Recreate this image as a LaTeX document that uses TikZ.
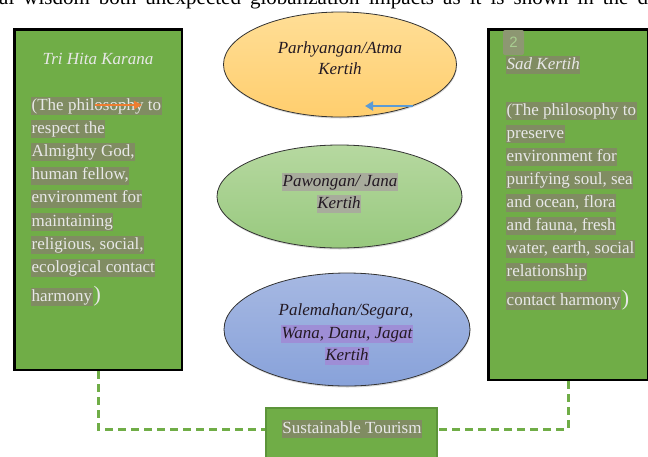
\documentclass[tikz,border=0pt]{standalone}
\usepackage{fontspec}
\setmainfont{Liberation Serif}
\newfontfamily\numfont{Liberation Sans}
\usetikzlibrary{calc, shapes.geometric, arrows.meta, shadows}
\definecolor{boxgreen}{RGB}{112,173,71}
\definecolor{tourborder}{RGB}{92,148,58}
\definecolor{hlgray}{RGB}{128,140,98}
\definecolor{txtlight}{RGB}{232,232,232}
\definecolor{ovaltext}{RGB}{35,25,35}
\definecolor{sunTop}{RGB}{255,222,150}
\definecolor{sunBot}{RGB}{255,206,110}
\definecolor{leafTop}{RGB}{182,216,160}
\definecolor{leafBot}{RGB}{152,201,126}
\definecolor{seaTop}{RGB}{166,184,226}
\definecolor{seaBot}{RGB}{136,162,218}
\definecolor{leafhl}{RGB}{168,172,156}
\definecolor{seahl}{RGB}{158,142,214}
\definecolor{arrowred}{RGB}{237,125,49}
\definecolor{arrowblue}{RGB}{91,155,213}
\newcommand{\bodyfont}{\fontsize{17}{20}\selectfont}
\newcommand{\ovalline}[5]{
    % #1: name
    % #2: x
    % #3: y (baseline)
    % #4: highlight colour
    % #5: text
    \node[ovaltxt, fill=#4] (#1) at (#2,#3) {#5};
}

\begin{document}
\begin{tikzpicture}[x=1pt, y=-1pt]
    % highlighted text line
    \tikzstyle{hl}=[fill=hlgray, text=txtlight, font=\bodyfont, anchor=base west, inner xsep=0.5pt, inner ysep=1pt, text height=12pt, text depth=4pt]
    % big closing bracket
    \tikzstyle{paren}=[text=txtlight, font=\fontsize{22}{24}\selectfont, anchor=base west, inner sep=0.5pt]
    % green panels
    \tikzstyle{panel}=[draw=black, line width=2.5pt, fill=boxgreen, drop shadow={shadow xshift=0.5pt, shadow yshift=-1pt, opacity=.25}]
    % ovals and their text
    \tikzstyle{oval}=[ellipse, draw=black!80, line width=0.8pt, drop shadow={shadow xshift=0.5pt, shadow yshift=-1.5pt, opacity=.3}]
    \tikzstyle{ovaltxt}=[text=ovaltext, font=\bodyfont\itshape, anchor=base, inner xsep=0.5pt, inner ysep=1pt, text height=12pt, text depth=4pt]
    \tikzstyle{link}=[boxgreen, line width=3pt, dash pattern=on 8pt off 5pt]
    \useasboundingbox (0,0) rectangle (648,456);
    % cut line of the page text above
    \node[anchor=base west, font=\fontsize{21}{24}\selectfont, inner sep=0] (pagetext) at (-1,4) {\makebox[664pt][s]{al wisdom both unexpected globalization impacts as it is shown in the dia}};

    % Left panel
    \node[panel, minimum width=167.5pt, minimum height=340.5pt] (tri) at (98,199.5) {};
    \node[font=\bodyfont\itshape, text=txtlight, anchor=base] (tri-t) at (98,64) {Tri Hita Karana};
    \foreach \txt [count=\i] in {{(The philosophy to},{respect the},{Almighty God,},{human fellow,},{environment for},{maintaining},{religious, social,},{ecological contact}}
        \node[hl] (tri-\i) at (31,{110+23.2*(\i-1)}) {\txt};
    \node[hl] (tri-9) at (31,301) {harmony};
    \node[paren] (tri-p) at (tri-9.base east) {)};

    % Right panel
    \node[panel, minimum width=159.5pt, minimum height=350.5pt] (sad) at (568,204.5) {};
    \node[fill=hlgray!90!white, text=boxgreen!60!white, rounded corners=2pt, minimum width=21pt, minimum height=25pt, font=\numfont\fontsize{15}{16}\selectfont] (num) at (513.5,42.5) {2};
    \node[hl, font=\bodyfont\itshape] (sad-t) at (506,69) {Sad Kertih};
    \foreach \txt [count=\i] in {{(The philosophy to},{preserve},{environment for},{purifying soul, sea},{and ocean, flora},{and fauna, fresh},{water, earth, social},{relationship}}
        \node[hl] (sad-\i) at (506,{115+23*(\i-1)}) {\txt};
    \node[hl] (sad-9) at (506,305) {contact harmony};
    \node[paren] (sad-p) at (sad-9.base east) {)};

    % Three ovals
    \node[oval, top color=sunTop, bottom color=sunBot, minimum width=233pt, minimum height=105pt] (atma) at (340,64.5) {};
    \ovalline{atma-1}{340}{53}{none}{Parhyangan/Atma}
    \ovalline{atma-2}{340}{74}{none}{Kertih}
    \node[oval, top color=leafTop, bottom color=leafBot, minimum width=245pt, minimum height=103pt] (jana) at (339.5,196.5) {};
    \ovalline{jana-1}{340}{186}{leafhl}{Pawongan/ Jana}
    \ovalline{jana-2}{339}{208}{leafhl}{Kertih}
    \node[oval, top color=seaTop, bottom color=seaBot, minimum width=246pt, minimum height=113pt] (jagat) at (347,329.5) {};
    \ovalline{jagat-1}{346}{315}{none}{Palemahan/Segara,}
    \ovalline{jagat-2}{347}{338}{seahl}{Wana, Danu, Jagat}
    \ovalline{jagat-3}{347}{360}{seahl}{Kertih}

    % stray arrows
    \coordinate (red-a) at (95,105);
    \coordinate (red-b) at (142,105);
    \draw[arrowred, line width=2pt, -{Triangle[length=8pt, width=8pt]}] (red-a) -- (red-b);
    \coordinate (blue-a) at (413,106);
    \coordinate (blue-b) at (365,106);
    \draw[arrowblue, line width=2.5pt, -{Triangle[length=8pt, width=9pt]}] (blue-a) -- (blue-b);

    % Sustainable tourism box
    \node[draw=tourborder, line width=1.5pt, fill=boxgreen, minimum width=171pt, minimum height=76pt] (tour) at (351.5,446) {};
    \node[hl, anchor=base] (tour-t) at (352,433) {Sustainable Tourism};
    \draw[link] (tri.south) |- (tour.west |- tour-t.center);
    \draw[link] (sad.south) |- (tour.east |- tour-t.center);
\end{tikzpicture}
\end{document}
